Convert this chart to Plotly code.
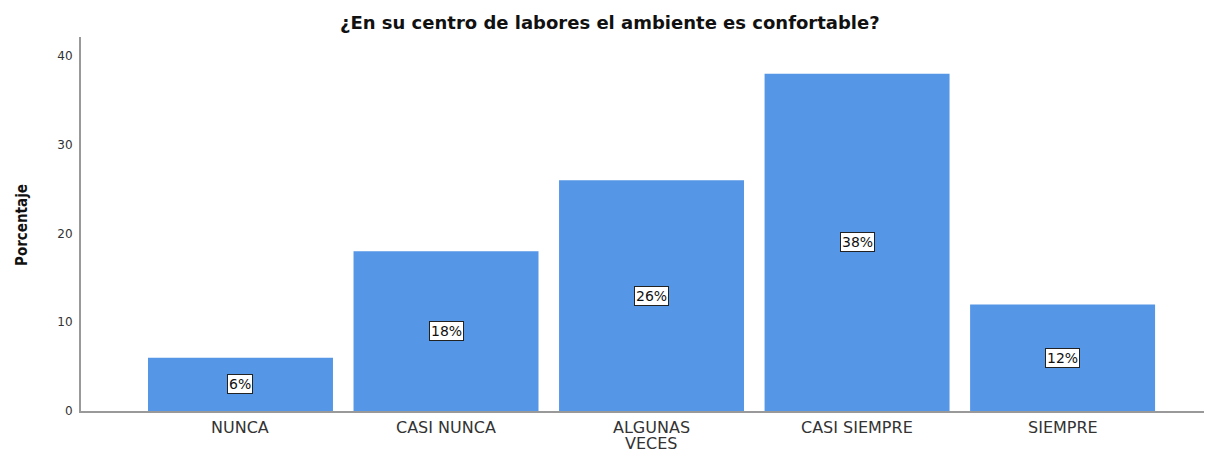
import plotly.graph_objects as go

categories = ["NUNCA", "CASI NUNCA", "ALGUNAS<br>VECES", "CASI SIEMPRE", "SIEMPRE"]
percentages = [6, 18, 26, 38, 12]
labels = ["6%", "18%", "26%", "38%", "12%"]
y_ticks = [0, 10, 20, 30, 40]

xpos = list(range(len(categories)))

# page has an 8px body margin; compensate so the plot area lands at page x 81..1212, y 37..411
OFF = 8
PLOT_L, PLOT_T, PLOT_B = 81, 37, 411
PLOT_W = 1212 - PLOT_L
PLOT_H = PLOT_B - PLOT_T

fig = go.Figure()
fig.add_trace(go.Bar(
    x=xpos, y=percentages, width=0.9,
    marker=dict(color="#5596E6", line=dict(width=0)),
    hoverinfo="skip",
))

for xi, v, t in zip(xpos, percentages, labels):
    fig.add_annotation(
        x=xi, y=v / 2, text=t, showarrow=False,
        font=dict(family="DejaVu Sans", size=14, color="#111"),
        bgcolor="white", bordercolor="#222", borderwidth=1, borderpad=1,
    )

# category labels (tight line spacing like the reference)
for xi, cat in zip(xpos, categories):
    for j, line in enumerate(cat.split("<br>")):
        fig.add_annotation(
            x=xi, xref="x", y=0, yref="paper", yanchor="middle",
            yshift=-16 - 16 * j, text=line, showarrow=False, borderpad=0,
            font=dict(family="DejaVu Sans", size=16, color="#333"),
        )

fig.add_annotation(
    text="<b>¿En su centro de labores el ambiente es confortable?</b>",
    xref="paper", yref="paper", x=(610 - PLOT_L) / PLOT_W, y=1 + (PLOT_T - 22) / PLOT_H,
    xanchor="center", yanchor="middle", showarrow=False,
    font=dict(family="DejaVu Sans", size=18, color="#111"),
)

fig.add_annotation(
    text="<b>Porcentaje</b>", textangle=-90,
    xref="paper", yref="paper", x=(22 - PLOT_L) / PLOT_W, y=(PLOT_B - 225) / PLOT_H,
    xanchor="center", yanchor="middle", showarrow=False,
    font=dict(family="DejaVu Sans Condensed", size=15, color="#111"),
)

fig.update_layout(
    width=1212 - OFF, height=450 - OFF,
    margin=dict(l=PLOT_L - OFF, r=0, t=PLOT_T - OFF, b=450 - PLOT_B),
    paper_bgcolor="white", plot_bgcolor="white",
    showlegend=False,
    xaxis=dict(
        tickmode="array", tickvals=xpos, ticktext=[""] * len(xpos),
        range=[-0.776, 4.727], automargin=False,
        showline=True, linecolor="#999", linewidth=2,
        showgrid=False, zeroline=False, ticks="",
    ),
    yaxis=dict(
        tickmode="array", tickvals=y_ticks,
        range=[0, 42.14], automargin=False,
        showline=True, linecolor="#999", linewidth=2,
        showgrid=False, zeroline=False, ticks="outside", ticklen=4, tickcolor="white",
        tickfont=dict(family="DejaVu Sans", size=12, color="#333"),
    ),
)

fig.write_html("out.html")
